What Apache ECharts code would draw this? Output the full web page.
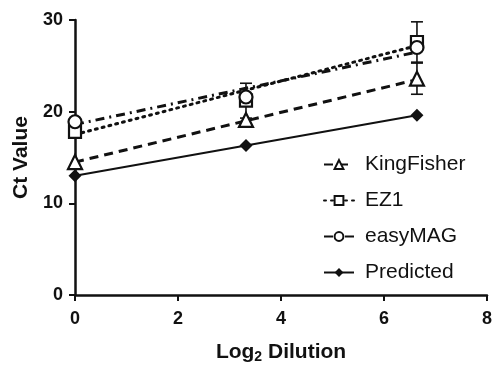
<!DOCTYPE html>
<html>
<head>
<meta charset="utf-8">
<script src="https://cdn.jsdelivr.net/npm/echarts@6/dist/echarts.min.js"></script>
<style>
  html, body { margin: 0; padding: 0; background: #fff; }
  #chart { width: 493px; height: 365px; }
</style>
</head>
<body>
<div id="chart"></div>
<script>
// dilution steps (log2)
const dilution = [0, 3.32, 6.64];

// mean Ct per extraction method
const kingFisher = [14.5, 19.1, 23.6];
const ez1 = [17.8, 21.2, 27.6];
const easyMag = [18.9, 21.6, 27.0];
const predicted = [13.0, 16.3, 19.6];

// error bar half-widths (0 = none drawn)
const kingFisherErr = [0, 0, 1.7];
const ez1Err = [0, 1.9, 2.2];
const easyMagErr = [0, 0, 0];

// regression line ends
const fitX = [0, 6.64];
const kingFisherFit = [14.5, 23.5];
const ez1Fit = [17.5, 27.2];
const easyMagFit = [18.6, 26.5];

const xTicks = [0, 2, 4, 6, 8];
const yTicks = [0, 10, 20, 30];

const FONT = "'Liberation Sans', Arial, sans-serif";
const INK = "#111";

const chart = echarts.init(document.getElementById("chart"));

const pairs = (xs, ys) => xs.map((x, i) => [x, ys[i]]);
const triples = (xs, ys, es) => xs.map((x, i) => [x, ys[i], es[i]]);

const openStyle = { color: "#fff", borderColor: INK, borderWidth: 2.2, opacity: 1 };

function errorBars(api) {
  const x = api.value(0);
  const y = api.value(1);
  const e = api.value(2);
  if (!e) return null;
  const top = api.coord([x, y + e]);
  const bot = api.coord([x, y - e]);
  const cap = 6;
  const style = { stroke: INK, lineWidth: 1.6 };
  return {
    type: "group",
    children: [
      { type: "line", shape: { x1: top[0], y1: top[1], x2: bot[0], y2: bot[1] }, style },
      { type: "line", shape: { x1: top[0] - cap, y1: top[1], x2: top[0] + cap, y2: top[1] }, style },
      { type: "line", shape: { x1: bot[0] - cap, y1: bot[1], x2: bot[0] + cap, y2: bot[1] }, style },
    ],
  };
}

const methods = [
  { name: "KingFisher", fit: kingFisherFit, vals: kingFisher, err: kingFisherErr, symbol: "triangle", size: 14, dash: [9, 6] },
  { name: "EZ1", fit: ez1Fit, vals: ez1, err: ez1Err, symbol: "rect", size: 12, dash: [2, 5] },
  { name: "easyMAG", fit: easyMagFit, vals: easyMag, err: easyMagErr, symbol: "circle", size: 13, dash: [9, 5, 2, 5] },
];

const series = [];
methods.forEach((m) => {
  series.push({
    name: m.name,
    type: "line",
    data: pairs(fitX, m.fit),
    showSymbol: false,
    symbol: m.symbol,
    itemStyle: openStyle,
    lineStyle: { color: INK, width: 3, type: m.dash, cap: m.dash[0] < 3 ? "round" : "butt" },
    clip: false,
    z: 2,
  });
  series.push({
    name: m.name + " err",
    type: "custom",
    data: triples(dilution, m.vals, m.err),
    renderItem: (params, api) => errorBars(api),
    clip: false,
    z: 3,
  });
  series.push({
    name: m.name + " pts",
    type: "scatter",
    data: pairs(dilution, m.vals),
    symbol: m.symbol,
    symbolSize: m.size,
    itemStyle: openStyle,
    clip: false,
    z: 4,
  });
});

series.push({
  name: "Predicted",
  type: "line",
  data: pairs(dilution, predicted),
  symbol: "diamond",
  symbolSize: 13,
  itemStyle: { color: INK, opacity: 1 },
  lineStyle: { color: INK, width: 2 },
  clip: false,
  z: 5,
});

const option = {
  animation: false,
  backgroundColor: "#fff",
  grid: { left: 75, right: 6, top: 20, bottom: 70, outerBoundsMode: "none", containLabel: false },
  legend: {
    data: ["KingFisher", "EZ1", "easyMAG", "Predicted"],
    orient: "vertical",
    left: 318,
    top: 149,
    itemGap: 15,
    itemWidth: 30,
    itemHeight: 11,
    selectedMode: false,
    textStyle: { fontFamily: FONT, fontSize: 21, color: INK, padding: [0, 0, 0, 6] },
  },
  xAxis: {
    type: "value",
    min: xTicks[0],
    max: xTicks[xTicks.length - 1],
    interval: 2,
    name: "{b|Log}{s|2}{b| Dilution}",
    nameLocation: "middle",
    nameGap: 45,
    nameTextStyle: {
      rich: {
        b: { fontFamily: FONT, fontSize: 21, fontWeight: "bold", color: INK },
        s: { fontFamily: FONT, fontSize: 14, fontWeight: "bold", color: INK, padding: [10, 0, 0, 0] },
      },
    },
    splitLine: { show: false },
    axisLine: { onZero: false, lineStyle: { color: INK, width: 2.5 } },
    axisTick: { length: 6, lineStyle: { color: INK, width: 2 } },
    axisLabel: { margin: 15, fontFamily: FONT, fontSize: 18, fontWeight: "bold", color: INK },
  },
  yAxis: {
    type: "value",
    min: yTicks[0],
    max: yTicks[yTicks.length - 1],
    interval: 10,
    name: "Ct Value",
    nameLocation: "middle",
    nameGap: 42,
    nameTextStyle: { fontFamily: FONT, fontSize: 21, fontWeight: "bold", color: INK },
    splitLine: { show: false },
    axisLine: { onZero: false, lineStyle: { color: INK, width: 2.5 } },
    axisTick: { length: 6, lineStyle: { color: INK, width: 2 } },
    axisLabel: { margin: 12, fontFamily: FONT, fontSize: 18, fontWeight: "bold", color: INK },
  },
  series: series,
};

chart.setOption(option);
</script>
</body>
</html>
